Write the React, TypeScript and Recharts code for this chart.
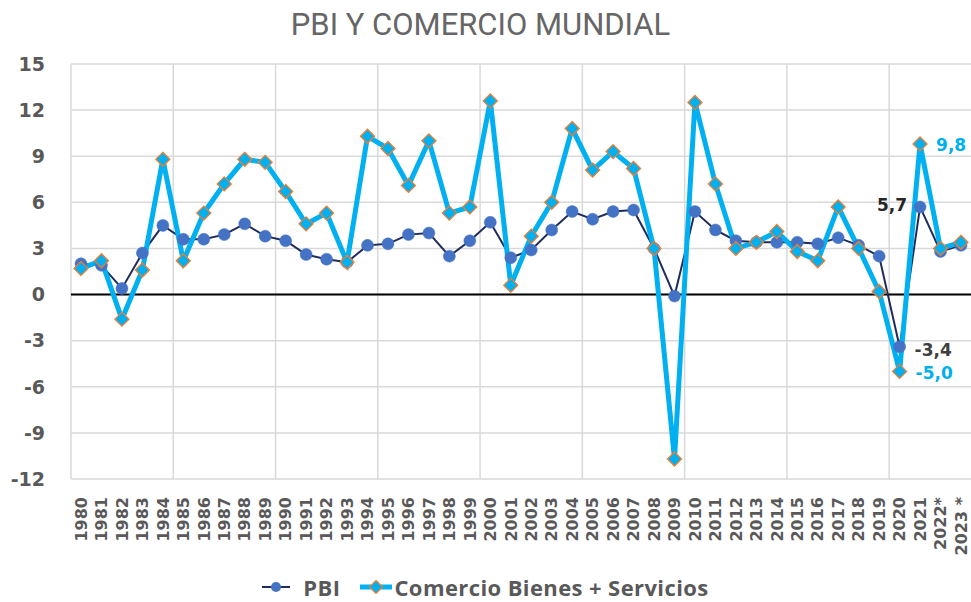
import {
  LineChart,
  Line,
  XAxis,
  YAxis,
  CartesianGrid,
  ReferenceLine,
  Legend,
} from "recharts";

const years = [
  "1980", "1981", "1982", "1983", "1984", "1985", "1986", "1987", "1988", "1989",
  "1990", "1991", "1992", "1993", "1994", "1995", "1996", "1997", "1998", "1999",
  "2000", "2001", "2002", "2003", "2004", "2005", "2006", "2007", "2008", "2009",
  "2010", "2011", "2012", "2013", "2014", "2015", "2016", "2017", "2018", "2019",
  "2020", "2021", "2022*", "2023 *",
];

const pbi = [
  2.0, 1.9, 0.4, 2.7, 4.5, 3.6, 3.6, 3.9, 4.6, 3.8,
  3.5, 2.6, 2.3, 2.1, 3.2, 3.3, 3.9, 4.0, 2.5, 3.5,
  4.7, 2.4, 2.9, 4.2, 5.4, 4.9, 5.4, 5.5, 3.0, -0.1,
  5.4, 4.2, 3.5, 3.4, 3.4, 3.4, 3.3, 3.7, 3.2, 2.5,
  -3.4, 5.7, 2.8, 3.2,
];

const comercio = [
  1.7, 2.2, -1.6, 1.6, 8.8, 2.2, 5.3, 7.2, 8.8, 8.6,
  6.7, 4.6, 5.3, 2.1, 10.3, 9.5, 7.1, 10.0, 5.3, 5.7,
  12.6, 0.6, 3.8, 6.0, 10.8, 8.1, 9.3, 8.2, 3.0, -10.7,
  12.5, 7.2, 3.0, 3.4, 4.1, 2.8, 2.2, 5.7, 3.0, 0.2,
  -5.0, 9.8, 3.0, 3.4,
];

const yTicks = [-12, -9, -6, -3, 0, 3, 6, 9, 12, 15];
const labeledYears = ["2020", "2021"];

const data = years.map((year, i) => ({ year, pbi: pbi[i], comercio: comercio[i] }));

const GRAY = "#595959";
const NAVY = "#1f2b5b";
const BLUE = "#4472c4";
const CYAN = "#00b0f0";
const ORANGE = "#ed7d31";

const fmt = (v: number) => v.toFixed(1).replace(".", ",");

function XTick({ x, y, payload }: any) {
  return (
    <text
      x={x}
      y={y}
      dy="0.36em"
      transform={`rotate(-90, ${x}, ${y})`}
      textAnchor="end"
      fill={GRAY}
      fontFamily="DejaVu Sans"
      fontWeight="bold"
      fontSize={16}
    >
      {payload.value}
    </text>
  );
}

function Diamond({ cx, cy }: any) {
  if (cx == null || cy == null) return null;
  const s = 7;
  return (
    <path
      d={`M${cx},${cy - s}L${cx + s},${cy}L${cx},${cy + s}L${cx - s},${cy}Z`}
      fill={CYAN}
      stroke={ORANGE}
      strokeWidth={1.3}
    />
  );
}

function pbiLabel({ x, y, index, value }: any) {
  if (!labeledYears.includes(years[index])) return null;
  const left = years[index] === "2021";
  return (
    <text
      key={`pl${index}`}
      x={left ? x - 13 : x + 15}
      y={y + (left ? -2 : 3)}
      dy="0.36em"
      textAnchor={left ? "end" : "start"}
      fill={left ? "#262626" : "#404040"}
      fontFamily="DejaVu Sans"
      fontWeight="bold"
      fontSize={17}
    >
      {fmt(value)}
    </text>
  );
}

function comercioLabel({ x, y, index, value }: any) {
  if (!labeledYears.includes(years[index])) return null;
  return (
    <text
      key={`cl${index}`}
      x={x + 16}
      y={y + 1}
      dy="0.36em"
      textAnchor="start"
      fill={CYAN}
      fontFamily="DejaVu Sans"
      fontWeight="bold"
      fontSize={17}
    >
      {fmt(value)}
    </text>
  );
}

function LegendBox() {
  const txt = { fontFamily: "Open Sans", fontWeight: 700, fontSize: 22, color: GRAY, letterSpacing: 0.4 };
  return (
    <div style={{ height: 44, display: "flex", justifyContent: "center", alignItems: "flex-end" }}>
      <div style={{ display: "flex", alignItems: "center" }}>
        <svg width={28} height={14}>
          <line x1={0} y1={7} x2={28} y2={7} stroke={NAVY} strokeWidth={2} />
          <circle cx={14} cy={7} r={5} fill={BLUE} />
        </svg>
        <span style={{ ...txt, marginLeft: 13, marginRight: 20 }}>PBI</span>
        <svg width={32} height={16}>
          <line x1={0} y1={8} x2={32} y2={8} stroke={CYAN} strokeWidth={5} />
          <path d="M16,1.5L22.5,8L16,14.5L9.5,8Z" fill={CYAN} stroke={ORANGE} strokeWidth={1.2} />
        </svg>
        <span style={{ ...txt, marginLeft: 2 }}>Comercio Bienes + Servicios</span>
      </div>
    </div>
  );
}

export default function App() {
  return (
    <div style={{ position: "absolute", left: 0, top: 0, width: 971, height: 602, background: "#fff" }}>
      <div
        style={{
          position: "absolute",
          top: 9,
          left: 0,
          width: 961,
          textAlign: "center",
          fontFamily: "Roboto",
          fontSize: 31,
          lineHeight: "31px",
          color: "#666666",
        }}
      >
        PBI Y COMERCIO MUNDIAL
      </div>
      <LineChart width={971} height={602} data={data} margin={{ top: 64, right: 0, bottom: 0, left: 0 }}>
        <CartesianGrid
          stroke="#d9d9d9"
          strokeWidth={1.5}
          verticalCoordinatesGenerator={({ offset }: any) => {
            const out: number[] = [];
            for (let k = 0; k <= years.length; k += 5) out.push(offset.left + (k * offset.width) / years.length);
            return out;
          }}
        />
        <XAxis
          dataKey="year"
          interval={0}
          height={79}
          padding={{ left: 10, right: 10 }}
          axisLine={false}
          tickLine={false}
          tickSize={0}
          tickMargin={18}
          tick={<XTick />}
        />
        <YAxis
          width={71}
          domain={[-12, 15]}
          ticks={yTicks}
          axisLine={false}
          tickLine={false}
          tickSize={0}
          tickMargin={26}
          tick={{ fill: GRAY, fontFamily: "DejaVu Sans", fontWeight: "bold", fontSize: 19 }}
        />
        <ReferenceLine y={0} stroke="#000" strokeWidth={2} />
        <Legend verticalAlign="bottom" height={44} content={<LegendBox />} />
        <Line
          dataKey="pbi"
          name="PBI"
          stroke={NAVY}
          strokeWidth={2}
          dot={{ r: 6, fill: BLUE, stroke: BLUE, strokeWidth: 0.5 }}
          label={pbiLabel}
          isAnimationActive={false}
        />
        <Line
          dataKey="comercio"
          name="Comercio Bienes + Servicios"
          stroke={CYAN}
          strokeWidth={5}
          dot={<Diamond />}
          label={comercioLabel}
          isAnimationActive={false}
        />
      </LineChart>
    </div>
  );
}
